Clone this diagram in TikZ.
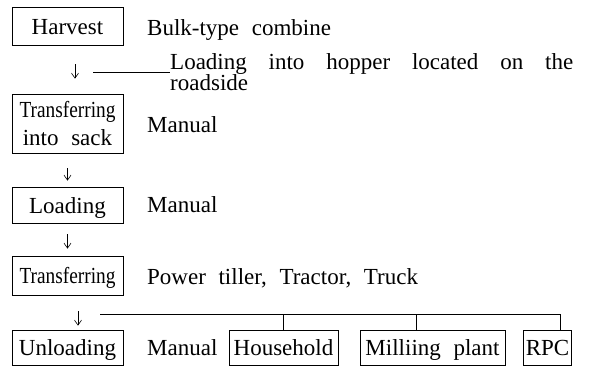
\documentclass[tikz,border=0pt]{standalone}
\usepackage{fontspec}
\setmainfont{Liberation Serif}[WordSpace=2.2]
\usepackage{graphicx}
\usepackage{tikz}
\usetikzlibrary{arrows.meta, positioning, calc}
\newcommand{\squeezed}[1]{\scalebox{0.84}[1]{#1}}

\begin{document}
\begin{tikzpicture}[
    x=1pt, y=-1pt,
    font=\fontsize{23}{19}\selectfont,
    stage/.style={draw, line width=0.7pt, minimum width=111pt, minimum height=36pt, inner sep=2pt, text height=16pt, text depth=0pt},
    dest/.style={draw, line width=0.7pt, minimum height=35pt, inner sep=2pt, text height=15pt, text depth=0pt},
    note/.style={anchor=base west, inner sep=0pt},
    flow/.style={-{Straight Barb[length=5pt,width=7pt]}, line width=0.6pt},
    link/.style={line width=0.6pt}
  ]
  \useasboundingbox (0,0) rectangle (590,368);

  % process stages
  \node[stage, minimum height=38pt] (harvest) at (67.5,26) {Harvest};
  \node[stage, minimum height=59pt, text height=, text depth=, align=center, font=\fontsize{23}{28}\selectfont] (sack) at (67.5,123.5) {\squeezed{Transferring}\\into sack};
  \node[stage] (loading) at (67.5,205) {Loading};
  \node[stage, minimum height=39pt] (transfer) at (67.5,275.5) {\squeezed{Transferring}};
  \node[stage, minimum height=35pt] (unloading) at (67.5,347.5) {Unloading};

  % how each stage is done
  \node[note] (combine) at (147,35) {Bulk-type combine};
  \node[note, text width=403pt, align=justify] (hopper) at (170,69) {Loading into hopper located on the\linebreak roadside};
  \node[note] (manualA) at (147,132) {Manual};
  \node[note] (manualB) at (147,212) {Manual};
  \node[note] (vehicles) at (147,284) {Power tiller, Tractor, Truck};
  \node[note] (manualC) at (147,355) {Manual};

  % destinations
  \node[dest, minimum width=109pt] (household) at (283.5,347.5) {Household};
  \node[dest, minimum width=145pt] (milling) at (432.5,347.5) {Milliing plant};
  \node[dest, minimum width=47pt] (rpc) at (547.5,347.5) {RPC};

  \draw[flow, shorten <=19pt, shorten >=15pt] ([xshift=7.5pt]harvest.south) -- ([xshift=7.5pt]harvest.south |- sack.north);
  \draw[flow, shorten <=15pt, shorten >=6pt] (sack.south) -- (loading.north);
  \draw[flow, shorten <=11pt, shorten >=7pt] (loading.south) -- (transfer.north);
  \draw[flow, shorten <=16pt, shorten >=4pt] ([xshift=10.5pt]transfer.south) -- ([xshift=10.5pt]transfer.south |- unloading.north);

  \coordinate (hopend) at (93,72);
  \draw[link] (hopend) -- (hopend -| hopper.west);

  \coordinate (busL) at (100,314);
  \coordinate (busR) at (560,314);
  \draw[link] (busL) -- (busR) -- (busR |- rpc.north);
  \draw[link] (household.north) -- (household.north |- busL);
  \draw[link] ([xshift=-16.5pt]milling.north) -- ([xshift=-16.5pt]milling.north |- busL);
\end{tikzpicture}
\end{document}
